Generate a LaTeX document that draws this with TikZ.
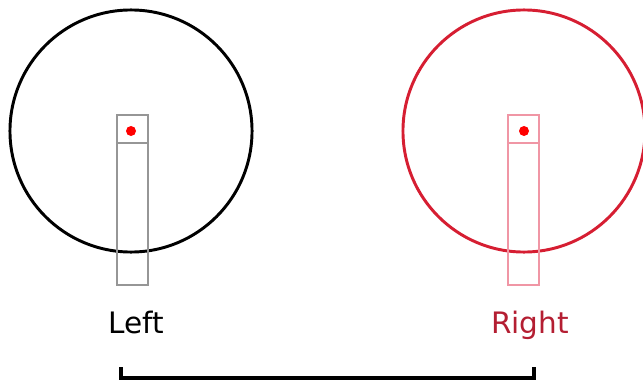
\documentclass[tikz,border=0pt]{standalone}
\usepackage{fontspec}
\setmainfont{DejaVu Sans}
\definecolor{wheelred}{RGB}{214,30,50}
\definecolor{textred}{RGB}{180,30,50}
\definecolor{bargray}{RGB}{150,150,150}
\definecolor{barpink}{RGB}{240,150,165}
\tikzset{
    wheel/.style={draw, circle, line width=2.1pt, minimum size=6.05cm, inner sep=0pt},
    bar/.style={draw, line width=1.4pt, minimum width=0.78cm, minimum height=4.25cm, inner sep=0pt},
    pin/.style={fill=red, circle, inner sep=0pt, minimum size=0.25cm},
    lbl/.style={font=\fontsize{21}{25}\selectfont, anchor=base}
}
\begin{document}
\begin{tikzpicture}[x=0.025cm, y=-0.025cm]
    \useasboundingbox (0,0) rectangle (643,381);
    % wheels
    \node[wheel] (lwheel) at (131,131) {};
    \node[wheel, wheelred] (rwheel) at (524,131) {};
    % bars with pins
    \node[bar, bargray] (lbar) at (132.5,200) {};
    \node[bar, barpink] (rbar) at (523.5,200) {};
    \draw[bargray, line width=1.4pt] (lbar.north west) ++(0,29) -- ++(31,0);
    \draw[barpink, line width=1.4pt] (rbar.north west) ++(0,29) -- ++(31,0);
    \node[pin] (lpin) at (131,131) {};
    \node[pin] (rpin) at (524,131) {};
    % labels
    \node[lbl] (lleft) at (136,333) {Left};
    \node[lbl, textred] (lright) at (530,333) {Right};
    % bracket
    \coordinate (bl) at (121,367);
    \coordinate (br) at (534,367);
    \draw[line width=2.3pt] (bl) -- ++(0,11) -| (br);
\end{tikzpicture}
\end{document}
